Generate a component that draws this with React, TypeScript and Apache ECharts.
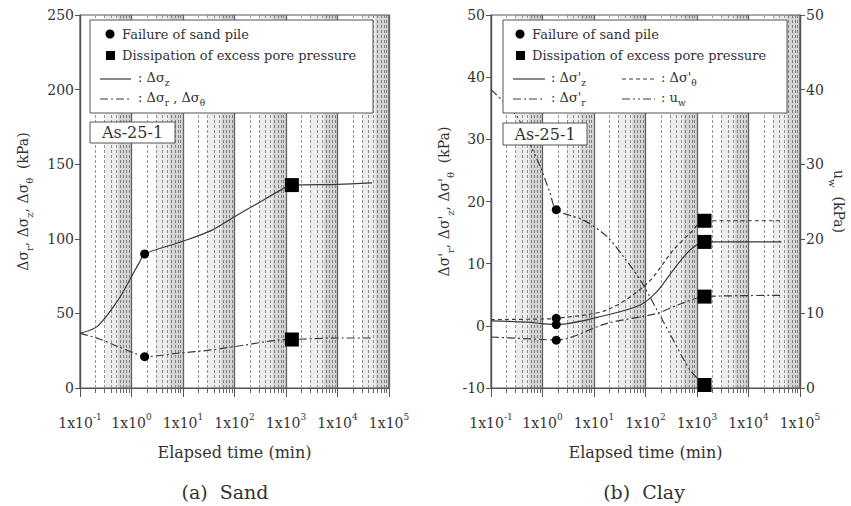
import React, { useEffect, useRef } from "react";
import * as echarts from "echarts";

const FONT = "'DejaVu Serif', 'Liberation Serif', serif";
const INK = "#333";
const LINE = "#3a3a3a";

// ---- (a) Sand ----
const sandTimeZ = [0.1, 0.22, 0.55, 1.0, 1.45, 1.8, 9.3, 35, 100, 290, 700, 1300, 10000, 47000];
const sandDsz = [36.6, 41.5, 59, 74.6, 84.7, 89.8, 98, 105.5, 114.8, 124, 131.6, 136, 136.5, 137.5];
const sandTimeR = [0.1, 0.22, 0.55, 1.15, 1.8, 8, 35, 158, 700, 1300, 10000, 47000];
const sandDsr = [36.6, 33.3, 27.7, 23.3, 21, 23.3, 25.5, 28.8, 32.2, 32.5, 33.5, 33.5];
const sandFailure = [[1.8, 89.8], [1.8, 21]];
const sandDissipation = [[1300, 136], [1300, 32.5]];

// ---- (b) Clay ----
const clayTimeZ = [0.1, 0.5, 1.0, 1.85, 17.8, 79, 166, 348, 735, 1400, 44000];
const clayDsz = [0.8, 0.6, 0.35, 0.2, 1.74, 3.35, 5.5, 9.0, 12.2, 13.5, 13.5];
const clayTimeT = [0.1, 1.0, 1.85, 17.8, 107, 348, 735, 1400, 44000];
const clayDst = [1.0, 1.1, 1.2, 2.55, 6.8, 12.2, 14.9, 16.9, 16.9];
const clayTimeR = [0.1, 1.0, 1.85, 17.8, 166, 500, 1400, 44000];
const clayDsr = [-1.8, -2.2, -2.3, 0.4, 2.0, 3.6, 4.7, 4.9];
const clayTimeU = [0.1, 0.32, 0.58, 0.9, 1.41, 1.85, 6.25, 17.8, 37.5, 79, 166, 348, 735, 1400];
const clayUw = [40, 36.4, 32.6, 29.7, 26.1, 23.9, 22.5, 20.3, 17.6, 14.5, 10.5, 6.4, 2.4, 0.4];
const clayFailure = [[1.85, 0.2], [1.85, 1.2], [1.85, -2.3]];
const clayFailureUw = [[1.85, 23.9]];
const clayDissipation = [[1400, 13.5], [1400, 16.9], [1400, 4.7]];
const clayDissipationUw = [[1400, 0.4]];

// axis ranges
const X_MIN = 0.1;
const X_MAX = 100000;
const decades = [-1, 0, 1, 2, 3, 4];

const DASH_R = [8, 3, 2, 3];
const DASH_T = [4, 3];
const DASH_U = [8, 3, 2, 3, 2, 3];

const subRich = {
  m: { fontFamily: FONT, fontSize: 14, color: INK, lineHeight: 18, verticalAlign: "top" },
  s: { fontFamily: FONT, fontSize: 10, color: INK, lineHeight: 9, verticalAlign: "bottom" },
};

function xAxisCfg(gridIndex: number) {
  return {
    type: "log",
    gridIndex,
    logBase: 10,
    min: X_MIN,
    max: X_MAX,
    name: "Elapsed time (min)",
    nameLocation: "middle",
    nameGap: 56,
    nameTextStyle: { fontFamily: FONT, fontSize: 16, color: INK },
    axisLine: { show: true, onZero: false, lineStyle: { color: "#555", width: 1.2 } },
    axisTick: { show: true, inside: false, length: 9, lineStyle: { color: "#555" } },
    minorTick: { show: true, splitNumber: 9, length: 5, lineStyle: { color: "#666" } },
    splitLine: { show: true, lineStyle: { color: "#666", width: 1.3 } },
    minorSplitLine: { show: true, lineStyle: { color: "#999", type: [3, 2], width: 1 } },
    axisLabel: {
      margin: 24,
      formatter: (v: number) => `{b|1x10}{e|${Math.round(Math.log10(v))}}`,
      rich: {
        b: { fontFamily: FONT, fontSize: 14, color: INK, lineHeight: 18, verticalAlign: "bottom" },
        e: { fontFamily: FONT, fontSize: 9, color: INK, lineHeight: 9, verticalAlign: "top" },
      },
    },
  };
}

function yAxisCfg(gridIndex: number, min: number, max: number, interval: number, name: string, position: string, nameGap: number, nameRotate: number) {
  return {
    type: "value",
    gridIndex,
    min,
    max,
    interval,
    position,
    name,
    nameLocation: "middle",
    nameGap,
    nameRotate,
    nameTextStyle: { rich: subRich },
    axisLine: { show: true, onZero: false, lineStyle: { color: "#555", width: 1.2 } },
    axisTick: { show: true, inside: false, length: 5, lineStyle: { color: "#555" } },
    splitLine: { show: false },
    axisLabel: { fontFamily: FONT, fontSize: 14, color: INK, margin: 6 },
  };
}

const bands = decades.map((n) => [{ xAxis: 5.5 * Math.pow(10, n) }, { xAxis: Math.pow(10, n + 1) }]);
const lightBands = decades.map((n) => [{ xAxis: 3 * Math.pow(10, n) }, { xAxis: 5.5 * Math.pow(10, n) }]);

function lineSeries(x: number[], y: number[], xi: number, yi: number, dash: any, withBands = false) {
  const s: any = {
    type: "line",
    xAxisIndex: xi,
    yAxisIndex: yi,
    data: x.map((t, i) => [t, y[i]]),
    symbol: "none",
    showSymbol: false,
    smooth: 0.3,
    lineStyle: { color: LINE, width: 1.2, type: dash },
    z: 3,
    silent: true,
  };
  if (withBands) {
    s.markArea = {
      silent: true,
      itemStyle: { color: "rgba(0,0,0,0.17)" },
      data: bands,
    };
  }
  return s;
}

function markerSeries(pts: number[][], xi: number, yi: number, symbol: string, size: number) {
  return {
    type: "scatter",
    xAxisIndex: xi,
    yAxisIndex: yi,
    data: pts,
    symbol,
    symbolSize: size,
    itemStyle: { color: "#000", opacity: 1 },
    z: 5,
    silent: true,
  };
}

function bandSeries(xi: number, yi: number) {
  return {
    type: "line",
    xAxisIndex: xi,
    yAxisIndex: yi,
    data: [],
    silent: true,
    markArea: { silent: true, itemStyle: { color: "rgba(0,0,0,0.07)" }, data: lightBands },
  };
}

function txt(x: number, y: number, text: string, size: number, align = "left", rich?: any) {
  return {
    type: "text",
    z: 101,
    x,
    y,
    style: {
      text,
      fontFamily: FONT,
      fontSize: size,
      fill: INK,
      align,
      textAlign: align,
      verticalAlign: "middle",
      textVerticalAlign: "middle",
      rich,
    },
  };
}

const legRich = {
  m: { fontFamily: FONT, fontSize: 13, color: INK, lineHeight: 16, verticalAlign: "top" },
  s: { fontFamily: FONT, fontSize: 9, color: INK, lineHeight: 8, verticalAlign: "bottom" },
};

function legLine(x1: number, x2: number, y: number, dash: any) {
  return {
    type: "line",
    z: 101,
    shape: { x1, y1: y, x2, y2: y },
    style: { stroke: LINE, lineWidth: 1.2, lineDash: dash === "solid" ? null : dash },
  };
}

function buildGraphics() {
  const g: any[] = [];
  // Left legend
  g.push({ type: "rect", z: 100, shape: { x: 90, y: 20, width: 283, height: 93 }, style: { fill: "#fff", stroke: "#555", lineWidth: 1 } });
  g.push({ type: "circle", z: 101, shape: { cx: 110, cy: 34, r: 4.5 }, style: { fill: "#000" } });
  g.push(txt(122, 34, "Failure of sand pile", 13));
  g.push({ type: "rect", z: 101, shape: { x: 106, y: 51, width: 9, height: 9 }, style: { fill: "#000" } });
  g.push(txt(122, 55, "Dissipation of excess pore pressure", 13));
  g.push(legLine(100, 131, 79, "solid"));
  g.push(txt(138, 79, "{m|: Δσ}{s|z}", 13, "left", legRich));
  g.push(legLine(100, 131, 99, DASH_R));
  g.push(txt(138, 99, "{m|: Δσ}{s|r}{m| , Δσ}{s|θ}", 13, "left", legRich));
  // Left sample box
  g.push({ type: "rect", z: 100, shape: { x: 90, y: 122, width: 85, height: 21 }, style: { fill: "#fff", stroke: "#555", lineWidth: 1 } });
  g.push(txt(132.5, 132.5, "As-25-1", 16, "center"));

  // Right legend
  g.push({ type: "rect", z: 100, shape: { x: 503, y: 20, width: 284, height: 93 }, style: { fill: "#fff", stroke: "#555", lineWidth: 1 } });
  g.push({ type: "circle", z: 101, shape: { cx: 520, cy: 34, r: 4.5 }, style: { fill: "#000" } });
  g.push(txt(532, 34, "Failure of sand pile", 13));
  g.push({ type: "rect", z: 101, shape: { x: 516, y: 51, width: 9, height: 9 }, style: { fill: "#000" } });
  g.push(txt(532, 55, "Dissipation of excess pore pressure", 13));
  g.push(legLine(513, 545, 79, "solid"));
  g.push(txt(551, 79, "{m|: Δσ'}{s|z}", 13, "left", legRich));
  g.push(legLine(622, 655, 79, DASH_T));
  g.push(txt(661, 79, "{m|: Δσ'}{s|θ}", 13, "left", legRich));
  g.push(legLine(513, 545, 99, DASH_R));
  g.push(txt(551, 99, "{m|: Δσ'}{s|r}", 13, "left", legRich));
  g.push(legLine(622, 655, 99, DASH_U));
  g.push(txt(661, 99, "{m|: u}{s|w}", 13, "left", legRich));
  // Right sample box
  g.push({ type: "rect", z: 100, shape: { x: 503, y: 123, width: 84, height: 22 }, style: { fill: "#fff", stroke: "#555", lineWidth: 1 } });
  g.push(txt(545, 134, "As-25-1", 16, "center"));

  // Captions
  g.push(txt(225, 492, "(a)  Sand", 19, "center"));
  g.push(txt(644, 492, "(b)  Clay", 19, "center"));
  return g;
}

export default function App() {
  const ref = useRef<HTMLDivElement>(null);
  useEffect(() => {
    if (!ref.current) return;
    const chart = echarts.init(ref.current, null, { renderer: "svg" });
    const option: any = {
      animation: false,
      backgroundColor: "#fff",
      grid: [
        { left: 80, top: 15, width: 309, height: 373, show: true, borderColor: "#555", borderWidth: 1.2, backgroundColor: "transparent" },
        { left: 491, top: 15, width: 309, height: 373, show: true, borderColor: "#555", borderWidth: 1.2, backgroundColor: "transparent" },
      ],
      xAxis: [xAxisCfg(0), xAxisCfg(1)],
      yAxis: [
        yAxisCfg(0, 0, 250, 50, "{m|Δσ}{s|r}{m|, Δσ}{s|z}{m|, Δσ}{s|θ}{m|  (kPa)}", "left", 46, 90),
        yAxisCfg(1, -10, 50, 10, "{m|Δσ'}{s|r}{m|, Δσ'}{s|z}{m|, Δσ'}{s|θ}{m|  (kPa)}", "left", 36, 90),
        yAxisCfg(1, 0, 50, 10, "{m|u}{s|w}{m|  (kPa)}", "right", 26, -90),
      ],
      series: [
        bandSeries(0, 0),
        bandSeries(1, 1),
        lineSeries(sandTimeZ, sandDsz, 0, 0, "solid", true),
        lineSeries(sandTimeR, sandDsr, 0, 0, DASH_R),
        markerSeries(sandFailure, 0, 0, "circle", 9),
        markerSeries(sandDissipation, 0, 0, "rect", 14),
        lineSeries(clayTimeZ, clayDsz, 1, 1, "solid", true),
        lineSeries(clayTimeT, clayDst, 1, 1, DASH_T),
        lineSeries(clayTimeR, clayDsr, 1, 1, DASH_R),
        lineSeries(clayTimeU, clayUw, 1, 2, DASH_U),
        markerSeries(clayFailure, 1, 1, "circle", 9),
        markerSeries(clayFailureUw, 1, 2, "circle", 9),
        markerSeries(clayDissipation, 1, 1, "rect", 14),
        markerSeries(clayDissipationUw, 1, 2, "rect", 14),
      ],
      graphic: buildGraphics(),
    };
    chart.setOption(option);
    return () => chart.dispose();
  }, []);
  return (
    <div
      ref={ref}
      style={{ position: "fixed", left: 0, top: 0, width: 851, height: 506, background: "#fff" }}
    />
  );
}
